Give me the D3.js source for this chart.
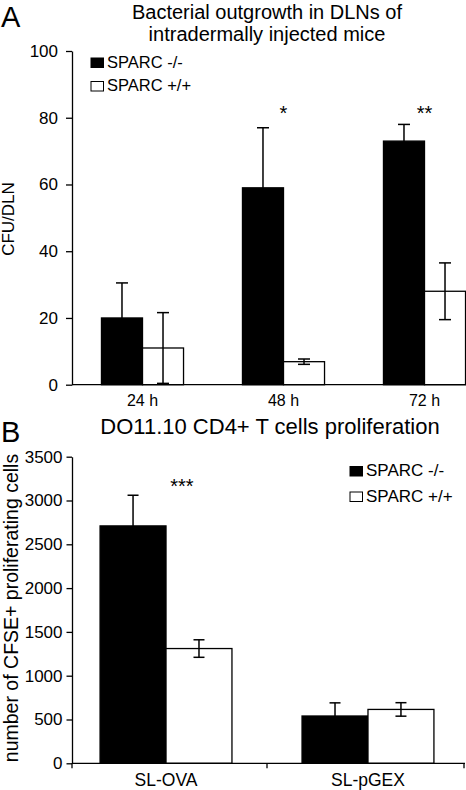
<!DOCTYPE html>
<html><head><meta charset="utf-8">
<script src="https://cdn.jsdelivr.net/npm/d3@7"></script>
<style>
html,body{margin:0;padding:0;background:#fff;}
text{font-family:"Liberation Sans",Arial,Helvetica,sans-serif;fill:#000;}
</style></head>
<body>
<svg id="chart" width="466" height="790"></svg>
<script>
// ---------- Panel A data ----------
const seriesNames = ["SPARC -/-", "SPARC +/+"];
const timeCategories = ["24 h", "48 h", "72 h"];
const cfuKO = [20, 59, 73];
const cfuKOErr = [10.5, 18, 5];
const cfuWT = [11, 6.9, 28];
const cfuWTErr = [10.6, 0.8, 8.5];
const sigA = ["", "*", "**"];
const ticksA = [0, 20, 40, 60, 80, 100];

// ---------- Panel B data ----------
const stimCategories = ["SL-OVA", "SL-pGEX"];
const prolKO = [2710, 540];
const prolKOErr = [350, 150];
const prolWT = [1310, 615];
const prolWTErr = [100, 77];
const sigB = ["***", ""];
const ticksB = [0, 500, 1000, 1500, 2000, 2500, 3000, 3500];

const colors = ["#000000", "#ffffff"];
const svg = d3.select("#chart");
const FONT = '"Liberation Sans",Arial,Helvetica,sans-serif';

function panel(opts) {
  const g = svg.append("g");
  const x = d3.scaleBand().domain(opts.cats).range(opts.xRange)
    .paddingInner(opts.padIn).paddingOuter(opts.padOut);
  const xs = d3.scaleBand().domain(seriesNames).range([0, x.bandwidth()]);
  const y = d3.scaleLinear().domain(opts.yDomain).range(opts.yRange);

  const rows = opts.cats.map((c, i) => ({
    cat: c,
    vals: [
      {s: seriesNames[0], v: opts.ko[i], e: opts.koErr[i], k: 0},
      {s: seriesNames[1], v: opts.wt[i], e: opts.wtErr[i], k: 1}
    ],
    sig: opts.sig[i]
  }));

  // bars
  const grp = g.selectAll("g.grp").data(rows).join("g")
    .attr("transform", d => `translate(${x(d.cat)},0)`);
  grp.selectAll("rect").data(d => d.vals).join("rect")
    .attr("x", d => xs(d.s)).attr("width", xs.bandwidth())
    .attr("y", d => y(d.v)).attr("height", d => y(0) - y(d.v))
    .attr("fill", d => colors[d.k]).attr("stroke", "#000").attr("stroke-width", 1.3);

  // error bars
  const cap = opts.cap;
  const eb = grp.selectAll("g.eb").data(d => d.vals).join("g")
    .attr("stroke", "#000").attr("stroke-width", 1.5);
  eb.append("line")
    .attr("x1", d => xs(d.s) + xs.bandwidth() / 2).attr("x2", d => xs(d.s) + xs.bandwidth() / 2)
    .attr("y1", d => y(d.v + d.e)).attr("y2", d => y(Math.max(0, d.v - d.e)));
  eb.append("line")
    .attr("x1", d => xs(d.s) + xs.bandwidth() / 2 - cap).attr("x2", d => xs(d.s) + xs.bandwidth() / 2 + cap)
    .attr("y1", d => y(d.v + d.e)).attr("y2", d => y(d.v + d.e));
  eb.append("line")
    .attr("x1", d => xs(d.s) + xs.bandwidth() / 2 - cap).attr("x2", d => xs(d.s) + xs.bandwidth() / 2 + cap)
    .attr("y1", d => y(Math.max(0, d.v - d.e))).attr("y2", d => y(Math.max(0, d.v - d.e)));

  // significance
  grp.append("text").text(d => d.sig)
    .attr("x", x.bandwidth() * opts.sigPos)
    .attr("y", opts.sigY).attr("text-anchor", "middle")
    .style("font-size", "20px");

  // y axis
  const ya = g.append("g").attr("transform", `translate(${opts.xRange[0]},0)`)
    .call(d3.axisLeft(y).tickValues(opts.ticks).tickSize(opts.tickSize)
      .tickSizeOuter(0).tickPadding(opts.tickPad).tickFormat(d3.format("d")));
  ya.selectAll("text").style("font-size", "17px").style("font-family", FONT);
  ya.selectAll("line,path").attr("stroke", "#000").attr("stroke-width", 1.3);

  // x axis
  const xa = g.append("g").attr("transform", `translate(0,${y(0)})`)
    .call(d3.axisBottom(x).tickSize(0).tickSizeOuter(0).tickPadding(opts.xPad));
  xa.selectAll("text").style("font-size", opts.xFont + "px").style("font-family", FONT);
  xa.select("path").attr("stroke", "#000").attr("stroke-width", 1.3)
    .attr("d", `M${opts.xRange[0]},0H${opts.axisEnd}`);

  if (opts.boundaryTicks) {
    const bw = x.bandwidth();
    const c = opts.cats;
    const mids = [opts.xRange[0], (x(c[0]) + bw + x(c[1])) / 2, opts.axisEnd - 1];
    xa.selectAll("line.bt").data(mids).join("line").attr("class", "bt")
      .attr("x1", d => d).attr("x2", d => d).attr("y1", 0).attr("y2", 5)
      .attr("stroke", "#000").attr("stroke-width", 1.3);
  }

  // legend
  const lg = g.append("g");
  seriesNames.forEach((s, i) => {
    lg.append("rect").attr("x", opts.legX).attr("y", opts.legY + i * opts.legGap - 9.5)
      .attr("width", 12.5).attr("height", 9.5)
      .attr("fill", colors[i]).attr("stroke", "#000").attr("stroke-width", 1);
    lg.append("text").attr("x", opts.legX + 16).attr("y", opts.legY + i * opts.legGap)
      .text(s).style("font-size", opts.legFont + "px");
  });

  // y label
  g.append("text").attr("transform", `translate(${opts.yLabX},${opts.yLabY}) rotate(-90)`)
    .attr("text-anchor", "middle").style("font-size", opts.yLabFont + "px").text(opts.yLabel);

  // title lines
  opts.title.forEach((t, i) => {
    g.append("text").attr("x", opts.titleX).attr("y", opts.titleY + i * opts.titleGap)
      .attr("text-anchor", "middle").style("font-size", opts.titleFont + "px").text(t);
  });

  g.append("text").attr("x", 1).attr("y", opts.letterY).style("font-size", "29px").text(opts.letter);
}

panel({
  cats: timeCategories, ko: cfuKO, koErr: cfuKOErr, wt: cfuWT, wtErr: cfuWTErr, sig: sigA,
  xRange: [72, 495], padIn: 0.418, padOut: 0.209, axisEnd: 470,
  yDomain: [0, 100], yRange: [384.7, 51], ticks: ticksA, tickSize: 6, tickPad: 8,
  cap: 6, sigPos: 0.5, sigY: 120, xPad: 10, xFont: 16, boundaryTicks: false,
  legX: 91, legY: 67.5, legGap: 23.5, legFont: 16.5,
  yLabX: 14, yLabY: 219, yLabFont: 17, yLabel: "CFU/DLN",
  title: ["Bacterial outgrowth in DLNs of", "intradermally injected mice"],
  titleX: 267, titleY: 18.6, titleGap: 22.6, titleFont: 20,
  letter: "A", letterY: 27
});

panel({
  cats: stimCategories, ko: prolKO, koErr: prolKOErr, wt: prolWT, wtErr: prolWTErr, sig: sigB,
  xRange: [72, 462], padIn: 0.347, padOut: 0.139, axisEnd: 465,
  yDomain: [0, 3500], yRange: [763.3, 456.7], ticks: ticksB, tickSize: 5.5, tickPad: 4,
  cap: 5.5, sigPos: 0.62, sigY: 493, xPad: 10.3, xFont: 17.5, boundaryTicks: true,
  legX: 350, legY: 476, legGap: 25.5, legFont: 17,
  yLabX: 17.5, yLabY: 608, yLabFont: 19.5, yLabel: "number of CFSE+ proliferating cells",
  title: ["DO11.10 CD4+ T cells proliferation"], titleX: 270, titleY: 434, titleGap: 0, titleFont: 22,
  letter: "B", letterY: 442
});
</script>
</body></html>
